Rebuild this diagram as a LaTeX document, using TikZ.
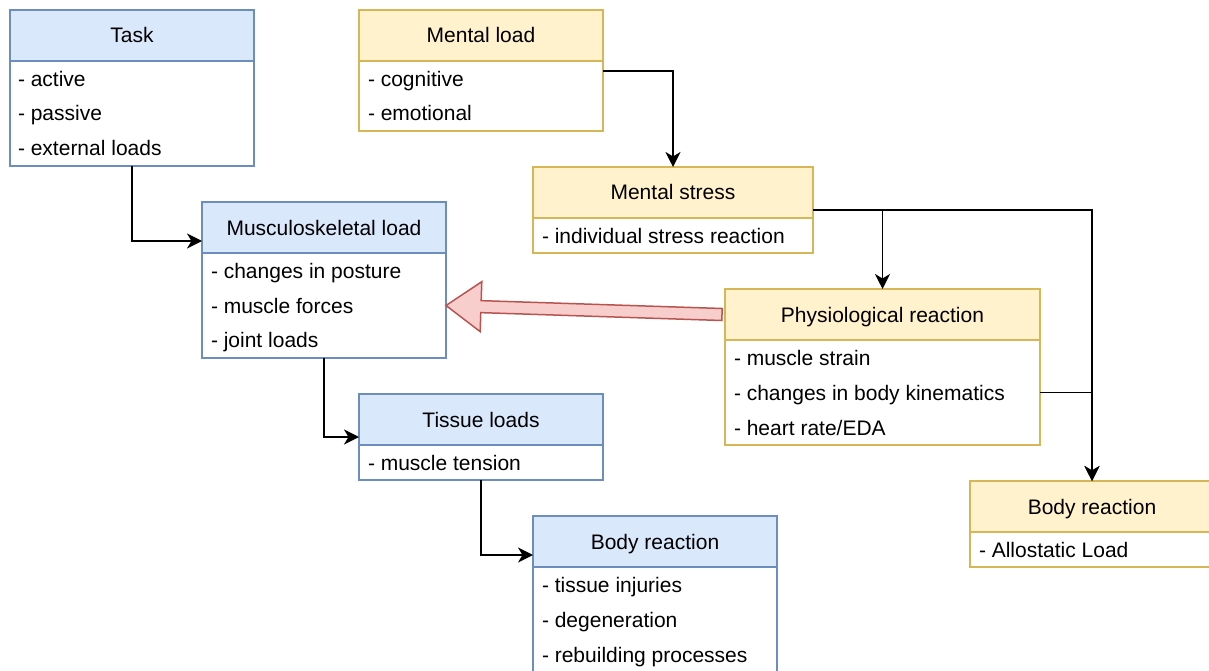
\documentclass[tikz,border=0pt]{standalone}
\usepackage{fontspec}
\setmainfont{Liberation Sans}
\usetikzlibrary{positioning,arrows.meta,calc}
\definecolor{blueFill}{HTML}{DAE8FC}
\definecolor{blueLine}{HTML}{6C8EBF}
\definecolor{yellowFill}{HTML}{FFF2CC}
\definecolor{yellowLine}{HTML}{D6B656}
\definecolor{redFill}{HTML}{F8CECC}
\definecolor{redLine}{HTML}{B85450}
\begin{document}
\begin{tikzpicture}[x=1pt, y=-1pt,
		every node/.style={font=\fontsize{21}{25}\selectfont, inner sep=0pt, outer sep=0pt},
		head/.style={draw, rectangle, anchor=north west, minimum height=51pt, text height=15pt, text depth=0pt, line width=1.5pt},
		list/.style={draw, rectangle, fill=white, line width=1.5pt},
		bluebox/.style={draw=blueLine, fill=blueFill},
		yellowbox/.style={draw=yellowLine, fill=yellowFill},
		item/.style={anchor=west, text height=15pt, text depth=0pt},
		link/.style={draw, line width=1.8pt, -{Stealth[length=15pt, width=15pt, inset=4.5pt]}},
		bigarrow/.style={draw=redLine, fill=redFill, line width=1.5pt}]
		\useasboundingbox (0,0) rectangle (1209,671);
		
		% left column (blue)
		\node[head, bluebox, minimum width=244pt] (taskH) at (10,10) {Task};
		\node[list, draw=blueLine, minimum width=244pt, minimum height=105pt, below=0pt of taskH] (taskL) {};
		\node[item] (task1) at (18,79) {- active};
		\node[item] (task2) at (18,113.5) {- passive};
		\node[item] (task3) at (18,148) {- external loads};
		
		\node[head, bluebox, minimum width=244pt] (muscH) at (202,202) {Musculoskeletal load};
		\node[list, draw=blueLine, minimum width=244pt, minimum height=105pt, below=0pt of muscH] (muscL) {};
		\node[item] (musc1) at (211,271) {- changes in posture};
		\node[item] (musc2) at (211,305.5) {- muscle forces};
		\node[item] (musc3) at (211,340) {- joint loads};
		
		\node[head, bluebox, minimum width=244pt] (tissueH) at (359,394) {Tissue loads};
		\node[list, draw=blueLine, minimum width=244pt, minimum height=35pt, below=0pt of tissueH] (tissueL) {};
		\node[item] (tissue1) at (368,463) {- muscle tension};
		
		\node[head, bluebox, minimum width=244pt] (bodyBH) at (533,516) {Body reaction};
		\node[list, draw=blueLine, minimum width=244pt, minimum height=106pt, below=0pt of bodyBH] (bodyBL) {};
		\node[item] (bodyB1) at (542,585) {- tissue injuries};
		\node[item] (bodyB2) at (542,620) {- degeneration};
		\node[item] (bodyB3) at (542,654.5) {- rebuilding processes};
		
		% right column (yellow)
		\node[head, yellowbox, minimum width=244pt] (mentH) at (359,10) {Mental load};
		\node[list, draw=yellowLine, minimum width=244pt, minimum height=70pt, below=0pt of mentH] (mentL) {};
		\node[item] (ment1) at (368,79) {- cognitive};
		\node[item] (ment2) at (368,113.5) {- emotional};
		
		\node[head, yellowbox, minimum width=280pt] (stressH) at (533,167) {Mental stress};
		\node[list, draw=yellowLine, minimum width=280pt, minimum height=35pt, below=0pt of stressH] (stressL) {};
		\node[item] (stress1) at (542,236) {- individual stress reaction};
		
		\node[head, yellowbox, minimum width=315pt] (physH) at (725,289) {Physiological reaction};
		\node[list, draw=yellowLine, minimum width=315pt, minimum height=105pt, below=0pt of physH] (physL) {};
		\node[item] (phys1) at (734,358) {- muscle strain};
		\node[item] (phys2) at (734,392.5) {- changes in body kinematics};
		\node[item] (phys3) at (734,427.5) {- heart rate/EDA};
		
		\node[head, yellowbox, minimum width=244pt] (bodyYH) at (970,481) {Body reaction};
		\node[list, draw=yellowLine, minimum width=244pt, minimum height=35pt, below=0pt of bodyYH] (bodyYL) {};
		\node[item] (bodyY1) at (979,550) {- Allostatic Load};
		
		% connectors
		\path[link] (taskL.south) |- ([yshift=12pt]muscH.south west);
		\path[link] (muscL.south) |- ([yshift=8pt]tissueH.south west);
		\path[link] (tissueL.south) |- ([yshift=12pt]bodyBH.south west);
		\path[link] ([yshift=-10pt]mentH.south east) -| (stressH.north);
		\path[link] ([yshift=8pt]stressH.south east) -| (physH.north);
		\path[link] ([yshift=8pt]stressH.south east) -| (bodyYH.north);
		\path[link] (physL.east) -| (bodyYH.north);
		
		% block arrow
		\coordinate (tip) at (muscL.east);
		\coordinate (tail) at ([xshift=-3pt]physH.west);
		\draw[bigarrow] (tip) -- ($(tip)!35pt!(tail)!25pt!90:(tail)$) -- ($(tip)!35pt!(tail)!6pt!90:(tail)$)
			-- ($(tail)!6pt!-90:(tip)$) -- ($(tail)!6pt!90:(tip)$)
			-- ($(tip)!35pt!(tail)!6pt!-90:(tail)$) -- ($(tip)!35pt!(tail)!25pt!-90:(tail)$) -- cycle;
		\end{tikzpicture}
\end{document}
